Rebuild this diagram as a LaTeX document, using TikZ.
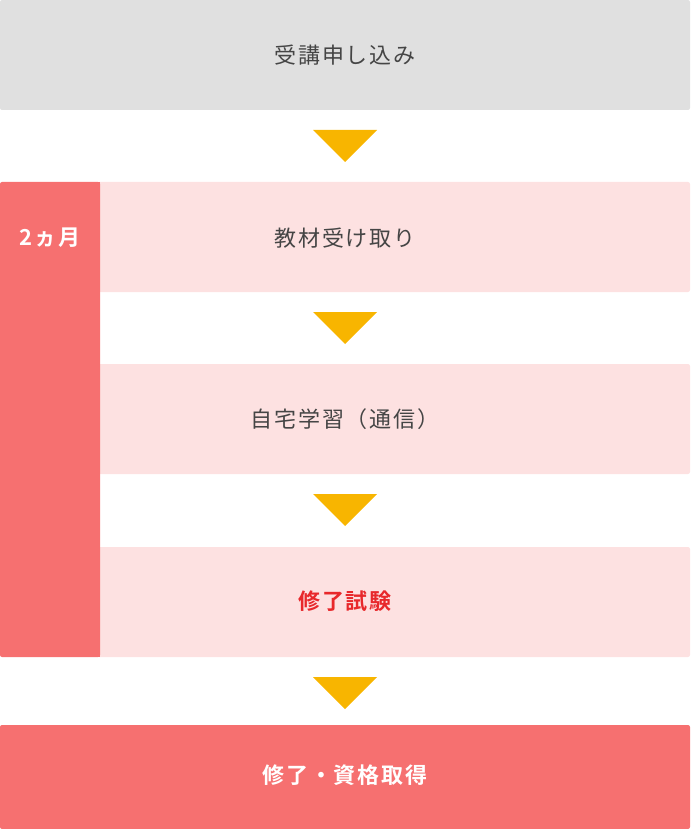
\documentclass[tikz,border=0pt]{standalone}
\usepackage{fontspec}
\setmainfont{Noto Sans CJK JP}[BoldFont={Noto Sans CJK JP Bold}, LetterSpace=8]
\definecolor{stepgray}{HTML}{E0E0E0}
\definecolor{steppink}{HTML}{FDE1E1}
\definecolor{barred}{HTML}{F67070}
\definecolor{arrowyellow}{HTML}{F8B500}
\definecolor{txtgray}{HTML}{454545}
\definecolor{examred}{HTML}{E8282B}

\begin{document}
\begin{tikzpicture}[x=1pt, y=-1pt,
    box/.style={rounded corners=2pt},
    steplabel/.style={font=\fontsize{22}{26}\selectfont, text=txtgray},
    boldlabel/.style={font=\fontsize{22}{26}\selectfont\bfseries}]
  \useasboundingbox (0,0) rectangle (690,829);

  % boxes
  \fill[box, color=stepgray] (0,0) rectangle (690,110);
  \foreach \y in {182,364,547}
    \fill[box, color=steppink] (97,\y) rectangle (690,\y+110);
  \fill[box, color=barred] (0,182) rectangle (100,657);
  \fill[color=barred] (90,182) rectangle (100,657);
  \fill[box, color=barred] (0,725) rectangle (690,829);

  % arrows
  \foreach \y in {130,312,494,677}
    \fill[color=arrowyellow] (313,\y) -- (377,\y) -- (345,\y+32) -- cycle;

  % labels
  \node[steplabel] (apply) at (345,55) {受講申し込み};
  \node[boldlabel, text=white] (period) at (50,238) {2ヵ月};
  \node[steplabel] (receive) at (345,238) {教材受け取り};
  \node[steplabel] (study) at (345,419) {自宅学習（通信）};
  \node[boldlabel, text=examred] (exam) at (345,601) {修了試験};
  \node[boldlabel, text=white] (finish) at (345,775) {修了・資格取得};

\end{tikzpicture}
\end{document}
